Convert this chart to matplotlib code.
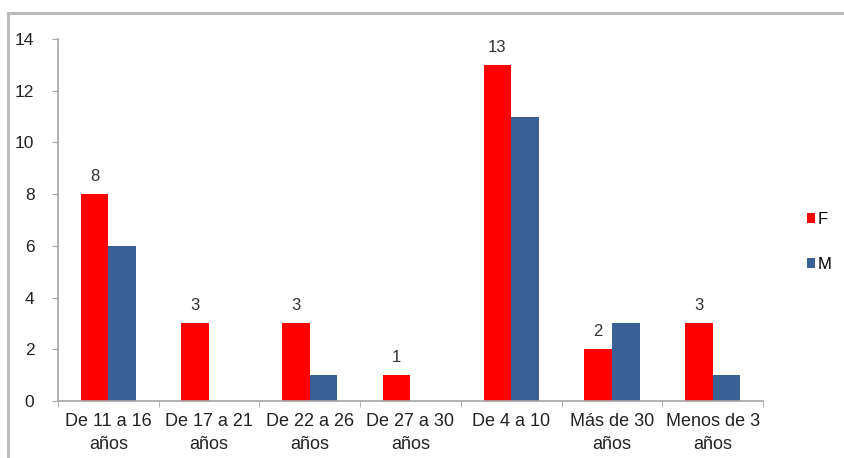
import matplotlib
matplotlib.use('Agg')
import matplotlib.pyplot as plt
import numpy as np
from matplotlib.patches import Rectangle

plt.rcParams['font.family'] = ['Liberation Sans', 'DejaVu Sans']

categorias = ['De 11 a 16\naños', 'De 17 a 21\naños', 'De 22 a 26\naños',
              'De 27 a 30\naños', 'De 4 a 10', 'Más de 30\naños', 'Menos de 3\naños']
fem = [8, 3, 3, 1, 13, 2, 3]
masc = [6, 0, 1, 0, 11, 3, 1]

ROJO = '#ff0000'
AZUL = '#3a6195'
GRIS = '#a6a6a6'

fig = plt.figure(figsize=(8.44, 4.58), dpi=100)
# marco exterior del gráfico
fig.patches.append(Rectangle((8 / 844, -0.1), 1.2, 1 - 13 / 458 + 0.1,
                             transform=fig.transFigure, fill=False,
                             edgecolor='#bcbcbc', linewidth=2.2))

ax = fig.add_axes([58 / 844, 57 / 458, 705 / 844, 362 / 458])
x = np.arange(len(categorias))
w = 0.275
ax.bar(x - w / 2, fem, w, color=ROJO, label='F')
ax.bar(x + w / 2, masc, w, color=AZUL, label='M')

for xi, v in zip(x, fem):
    ax.text(xi - w / 2, v + 0.4, str(v), ha='center', va='bottom',
            fontsize=12, color='#333333')

ax.set_xlim(-0.5, len(categorias) - 0.5)
ax.set_ylim(0, 14)
ax.set_yticks(range(0, 15, 2))
ax.set_xticks(x)
ax.set_xticklabels(categorias, fontsize=13, color='#222222', linespacing=1.45)
ax.set_xticks(np.arange(-0.5, len(categorias)), minor=True)
ax.tick_params(axis='x', which='major', length=0, pad=9)
ax.tick_params(axis='x', which='minor', length=4, color=GRIS, direction='out')
ax.tick_params(axis='y', length=4, color=GRIS, labelsize=12.5,
               labelcolor='#222222', pad=13)

for s in ['top', 'right']:
    ax.spines[s].set_visible(False)
for s in ['left', 'bottom']:
    ax.spines[s].set_color(GRIS)
    ax.spines[s].set_linewidth(1.2)

ax.legend(loc='center left', bbox_to_anchor=(792 / 844, 1 - 242 / 458),
          bbox_transform=fig.transFigure, frameon=False, fontsize=12,
          handlelength=0.5, handleheight=0.5, handletextpad=0.15,
          labelspacing=1.8)

fig.savefig('out.png', dpi=100)
